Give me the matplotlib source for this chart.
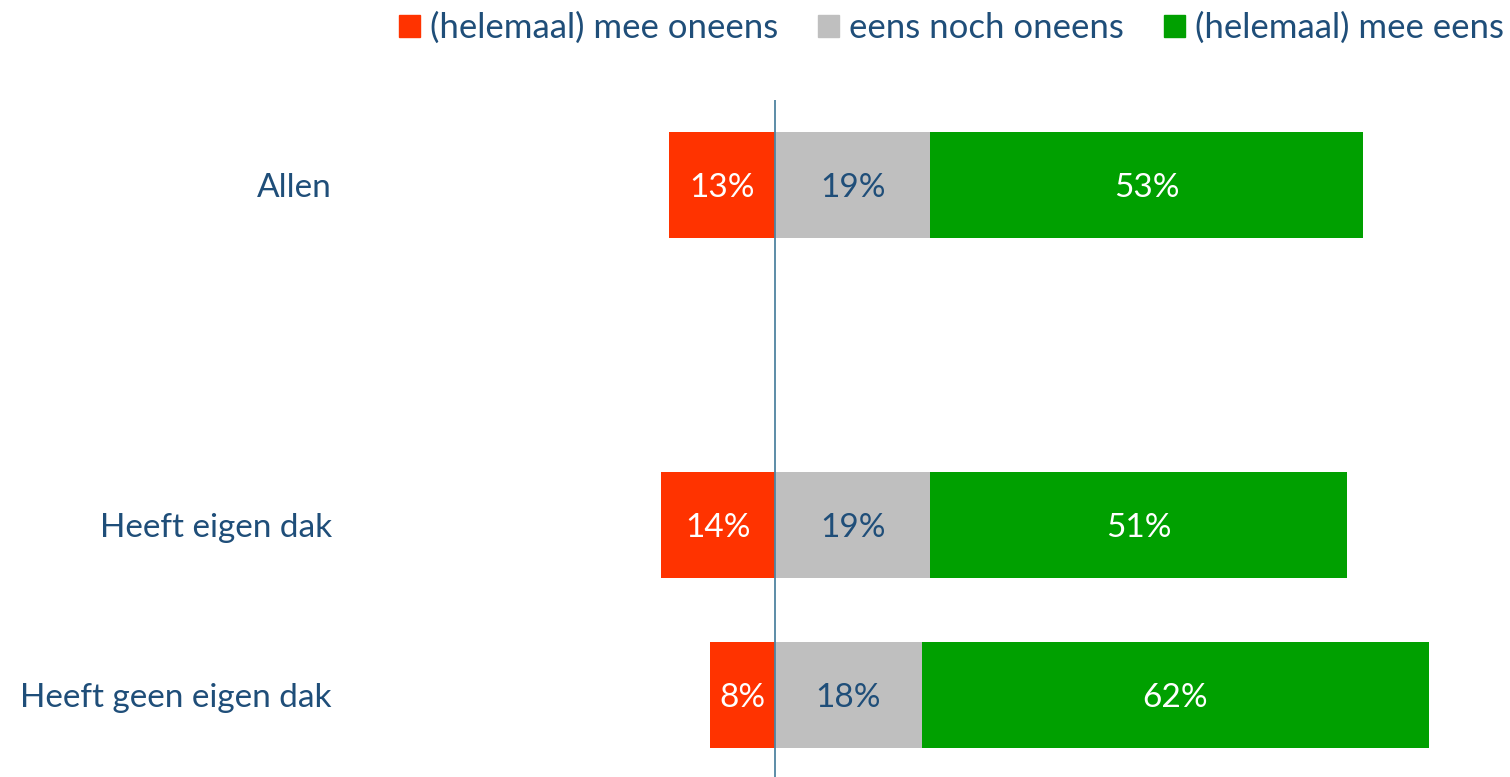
import matplotlib.pyplot as plt
from matplotlib.patches import Patch

# data
categorieen = ["Allen", "", "Heeft eigen dak", "Heeft geen eigen dak"]
oneens = [13, None, 14, 8]
neutraal = [19, None, 19, 18]
eens = [53, None, 51, 62]
reeksen = ["(helemaal) mee oneens", "eens noch oneens", "(helemaal) mee eens"]

rood = "#FF3300"
grijs = "#BFBFBF"
groen = "#00A000"
tekst = "#1F4E79"

plt.rcParams["font.family"] = ["Lato", "DejaVu Sans"]

fig = plt.figure(figsize=(15.1, 7.77), dpi=100)
ax = fig.add_axes([340 / 1510, 0, 1170 / 1510, 677 / 777])

hoogte = 0.62
for i, cat in enumerate(categorieen):
    if oneens[i] is None:
        continue
    ax.barh(i, -oneens[i], height=hoogte, color=rood)
    ax.barh(i, neutraal[i], height=hoogte, color=grijs)
    ax.barh(i, eens[i], left=neutraal[i], height=hoogte, color=groen)
    ax.text(-oneens[i] / 2, i + 0.02, f"{oneens[i]}%", ha="center", va="center",
            color="white", fontsize=24)
    ax.text(neutraal[i] / 2, i + 0.02, f"{neutraal[i]}%", ha="center", va="center",
            color=tekst, fontsize=24)
    ax.text(neutraal[i] + eens[i] / 2, i + 0.02, f"{eens[i]}%", ha="center",
            va="center", color="white", fontsize=24)

ax.axvline(0, color="#4F84A0", lw=1.3)
ax.set_xlim(-(775 - 340) / 8.17, (1510 - 775) / 8.17)
ax.set_ylim(3 + 82 / 170, -0.5)
ax.set_yticks(range(len(categorieen)))
ax.set_yticklabels(categorieen, color=tekst, fontsize=24)
ax.tick_params(axis="y", length=0, pad=6)
ax.set_xticks([])
for s in ax.spines.values():
    s.set_visible(False)

handles = [Patch(color=c) for c in (rood, grijs, groen)]
fig.legend(handles, reeksen, loc="upper right", bbox_to_anchor=(1.017, 1.025),
           ncol=3, frameon=False, fontsize=25, labelcolor=tekst,
           handlelength=0.6, handleheight=0.6, handletextpad=0.3,
           columnspacing=1.15)

fig.savefig("out.png", dpi=100)
